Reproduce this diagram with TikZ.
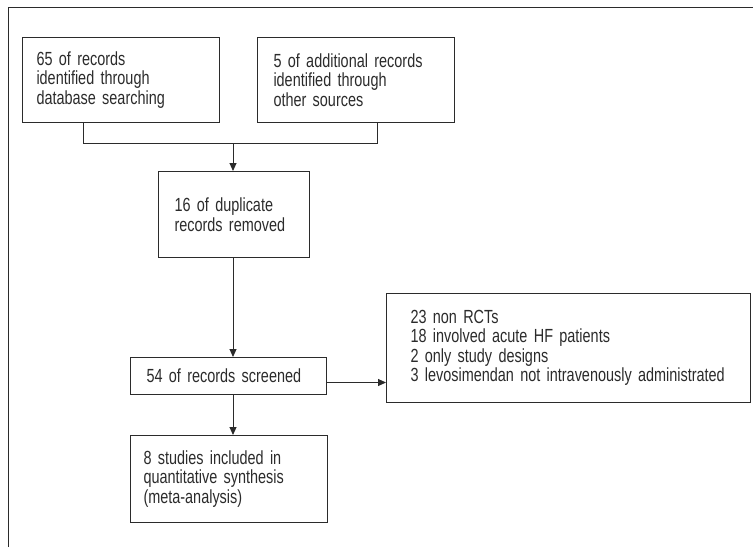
\documentclass[tikz,border=0pt]{standalone}
\usepackage{fontspec}
\setmainfont{Liberation Sans}[FakeStretch=0.76, WordSpace=0.8]
\usepackage{xcolor}
\usetikzlibrary{arrows.meta,positioning,calc}
\definecolor{ink}{HTML}{2B2B2B}

\begin{document}
\begin{tikzpicture}[
  x=1pt, y=-1pt,
  font=\fontsize{19}{19.5}\selectfont,
  recbox/.style={draw=ink, line width=1pt, anchor=north west, align=left,
                 inner ysep=0pt, text=ink},
  fl/.style={draw=ink, line width=1pt, -{Triangle[length=8pt, width=7pt]}},
  ln/.style={draw=ink, line width=1pt},
]
\useasboundingbox (0,0) rectangle (753,547);
% outer frame (top and left only)
\draw[ln] (8,547) -- (8,7) -- (753,7);

\node[recbox, inner xsep=14pt, text width=169pt, minimum height=85pt] (ident) at (22,37)
  {65 of records\\identified through\\database searching};
\node[recbox, inner xsep=16pt, text width=165pt, minimum height=85pt] (other) at (257,37)
  {5 of additional records\\identified through\\other sources};
\node[recbox, inner xsep=16pt, text width=119pt, minimum height=86pt] (dupl) at (158,171)
  {16 of duplicate\\records removed};
\node[recbox, inner xsep=16pt, text width=164pt, minimum height=37pt] (screen) at (130,357)
  {54 of records screened};
\node[recbox, inner xsep=13pt, text width=171pt, minimum height=87pt] (incl) at (130,435)
  {8 studies included in\\quantitative synthesis\\(meta-analysis)};
\node[recbox, inner xsep=24pt, text width=316pt, minimum height=109pt] (excl) at (386,293)
  {23 non RCTs\\18 involved acute HF patients\\2 only study designs\\3 levosimendan not intravenously administrated};

% merge of the two sources
\coordinate (mA) at (83,143);
\coordinate (mB) at (377,143);
\coordinate (mC) at (233,143);
\draw[ln] (ident.south -| mA) -- (mA) -- (mB) -- (other.south -| mB);
\draw[fl] (mC) -- (mC |- dupl.north);
\draw[fl] (dupl.south -| mC) -- (mC |- screen.north);
\draw[fl] (screen.south -| mC) -- (mC |- incl.north);
\coordinate (sx) at ([yshift=-6.5pt]screen.east);
\draw[fl] (sx) -- (sx -| excl.west);
\end{tikzpicture}
\end{document}
